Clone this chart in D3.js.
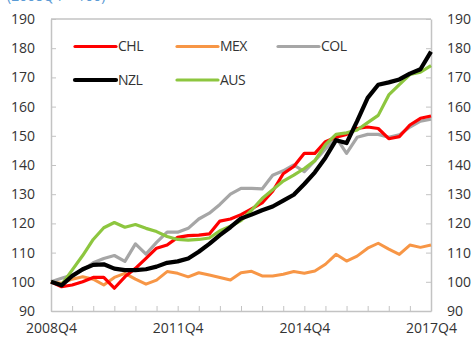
<!DOCTYPE html>
<html><head><meta charset="utf-8">
<script src="https://cdn.jsdelivr.net/npm/d3@7"></script>
<style>
html,body{margin:0;padding:0;background:#fff;}
svg{display:block;font-family:"Open Sans","Noto Sans",sans-serif;}
</style></head>
<body><svg id="c" width="476" height="341"></svg>
<script>
const quarters = ["2008Q4","2009Q1","2009Q2","2009Q3","2009Q4","2010Q1","2010Q2","2010Q3","2010Q4",
"2011Q1","2011Q2","2011Q3","2011Q4","2012Q1","2012Q2","2012Q3","2012Q4","2013Q1","2013Q2","2013Q3","2013Q4",
"2014Q1","2014Q2","2014Q3","2014Q4","2015Q1","2015Q2","2015Q3","2015Q4","2016Q1","2016Q2","2016Q3","2016Q4",
"2017Q1","2017Q2","2017Q3","2017Q4"];
const xLabels = ["2008Q4","2011Q4","2014Q4","2017Q4"];
const yTicks = [90,100,110,120,130,140,150,160,170,180,190];

const CHL = [100,98.3,98.9,100,101.5,101.5,97.8,101.7,104.6,108,111.5,112.6,115.2,115.8,116,116.4,120.8,121.5,123,125,127,
131,137,139.5,144,144,148,149.5,150.5,152.5,153,152.5,149,149.7,153.7,156,156.8];
const MEX = [100,99.5,100.9,101.7,100.9,98.9,101.5,102.9,100.9,99.2,100.6,103.5,102.9,101.7,103.1,102.3,101.5,100.6,103.1,103.6,102,
102,102.6,103.5,102.9,103.7,106,109.4,107.1,108.8,111.5,113.2,111.2,109.4,112.6,111.8,112.6];
const COL = [100,101.2,102.3,104,106.5,108,109,107,113,109.5,113.5,117,117,118.3,121.5,123.5,126.5,130,132,132,131.8,
136.5,138,140,137.7,141.5,145.5,149.5,144,149.5,150.5,150.5,149.5,150.3,153,155,155.7];
const NZL = [100,98.8,102,104.3,105.8,106,104.5,104,104,104.3,105.2,106.5,107,108,110.3,113,116,118.7,121.7,123,124.5,
125.8,127.8,129.8,133.5,137.5,142.5,148.5,147.5,155,163,167.5,168.3,169.3,171.3,172.8,178.8];
const AUS = [100,99,104,109,114.5,118.5,120.3,118.7,119.6,118.3,117.2,115.5,114.5,114.3,114.5,115,117.5,119,121,124.5,128.5,
131.5,134.5,136.5,138.8,141.5,147,150.5,151,152,154.5,157,164,167.5,171,171.8,174];

const seriesNames = ["CHL","MEX","COL","NZL","AUS"];
const seriesValues = {CHL, MEX, COL, NZL, AUS};
const colors = {CHL:"#ff0000", MEX:"#f79646", COL:"#a6a6a6", NZL:"#000000", AUS:"#8dc63f"};
const widths = {CHL:3.2, MEX:3, COL:3.2, NZL:4.2, AUS:3.2};
const drawOrder = ["MEX","COL","CHL","AUS","NZL"];

const svg = d3.select("#c");
const L = 51, R = 431, T = 19, B = 311;
const x = d3.scaleLinear().domain([0, quarters.length-1]).range([L, R]);
const y = d3.scaleLinear().domain([90,190]).range([B, T]);
const axisColor = "#c3c3c3";

// subtitle clipped at top
svg.append("text").attr("x",7).attr("y",1).attr("fill","#5b9bd5")
  .attr("font-size",14).text("(2008Q4 = 100)");

// frame top
svg.append("line").attr("x1",L).attr("x2",R).attr("y1",T).attr("y2",T)
  .attr("stroke",axisColor).attr("stroke-width",1.3);

function styleAxis(g){
  g.selectAll("path.domain").attr("stroke",axisColor).attr("stroke-width",1.5);
  g.selectAll(".tick line").attr("stroke",axisColor).attr("stroke-width",1);
  g.selectAll("text").attr("fill","#333").attr("font-size",14).attr("font-family","'Open Sans','Noto Sans',sans-serif");
}

const gl = svg.append("g").attr("transform",`translate(${L},0)`)
  .call(d3.axisLeft(y).tickValues(yTicks).tickFormat(d3.format("d")).tickSizeInner(-5).tickSizeOuter(0).tickPadding(16));
styleAxis(gl);
const gr = svg.append("g").attr("transform",`translate(${R},0)`)
  .call(d3.axisRight(y).tickValues(yTicks).tickFormat(d3.format("d")).tickSizeInner(-5).tickSizeOuter(0).tickPadding(16));
styleAxis(gr);
const tickIdx = quarters.map((q,i)=>i).filter(i=>i%2===0);
const gb = svg.append("g").attr("transform",`translate(0,${B})`)
  .call(d3.axisBottom(x).tickValues(tickIdx).tickFormat(i => xLabels.includes(quarters[i]) ? quarters[i] : "")
    .tickSizeInner(-5).tickSizeOuter(0).tickPadding(12));
styleAxis(gb);

const line = d3.line().x((d,i)=>x(i)).y(d=>y(d)).curve(d3.curveLinear);
drawOrder.forEach(name=>{
  svg.append("path").datum(seriesValues[name]).attr("d",line)
    .attr("fill","none").attr("stroke",colors[name]).attr("stroke-width",widths[name])
    .attr("stroke-linejoin","round").attr("stroke-linecap","butt");
});

// legend
const legendPos = {CHL:[75,46.5], MEX:[177,46.5], COL:[278,46.5], NZL:[75,80], AUS:[177,80]};
seriesNames.forEach(name=>{
  const [lx,ly] = legendPos[name];
  svg.append("line").attr("x1",lx).attr("x2",lx+41).attr("y1",ly).attr("y2",ly)
    .attr("stroke",colors[name]).attr("stroke-width",name==="NZL"?4.2:3.2).attr("stroke-linecap","round");
  svg.append("text").attr("x",lx+43).attr("y",ly).attr("dy","0.35em")
    .attr("font-size",14).attr("fill","#333").attr("letter-spacing","-0.5").text(name);
});
</script></body></html>
